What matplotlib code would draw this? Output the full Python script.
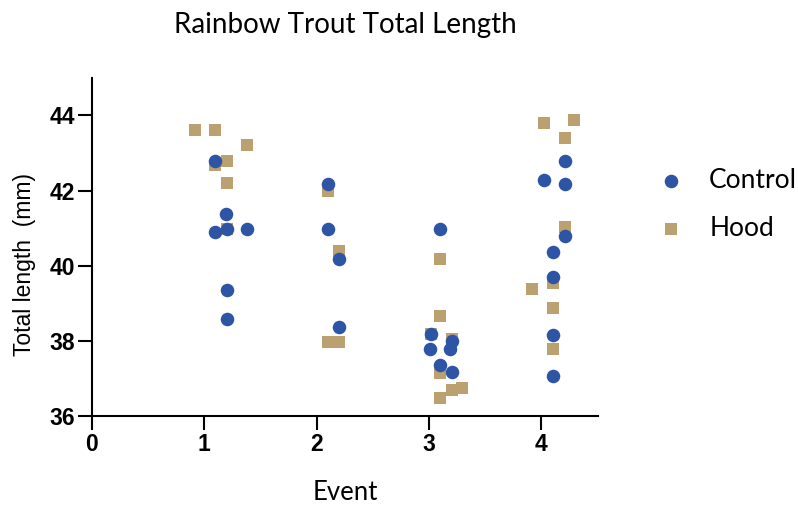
import matplotlib.pyplot as plt
import numpy as np

# values (jittered event positions)
ctrl_x = [1.10, 1.19, 1.10, 1.20, 1.38, 1.20, 1.20,
          2.10, 2.10, 2.20, 2.20,
          3.10, 3.02, 3.20, 3.01, 3.19, 3.10, 3.20,
          4.21, 4.02, 4.21, 4.21, 4.10, 4.10, 4.10, 4.10]
ctrl_y = [42.78, 41.38, 40.89, 40.98, 40.98, 39.36, 38.58,
          42.18, 40.98, 40.18, 38.37,
          40.98, 38.18, 38.00, 37.78, 37.78, 37.36, 37.18,
          42.78, 42.28, 42.18, 40.78, 40.37, 39.69, 38.16, 37.07]

hood_x = [0.92, 1.10, 1.38, 1.20, 1.10, 1.20, 1.20,
          2.10, 2.20, 2.10, 2.20,
          3.10, 3.10, 3.02, 3.20, 3.10, 3.20, 3.29, 3.10,
          4.02, 4.29, 4.21, 4.21, 4.10, 3.92, 4.10, 4.10]
hood_y = [43.60, 43.60, 43.20, 42.78, 42.67, 42.19, 40.98,
          41.98, 40.38, 37.98, 37.98,
          40.18, 38.67, 38.18, 38.05, 37.16, 36.69, 36.74, 36.47,
          43.79, 43.87, 43.39, 41.02, 39.55, 39.38, 38.87, 37.78]

x_ticks = [0, 1, 2, 3, 4]
y_ticks = [36, 38, 40, 42, 44]

blue = '#2E54A6'
tan = '#BBA070'

fig = plt.figure(figsize=(7.98, 5.05), dpi=100)
ax = fig.add_axes([0.115, 0.176, 0.634, 0.670])

ax.scatter(hood_x, hood_y, marker='s', s=85, color=tan, linewidths=0, label='Hood', zorder=3)
ax.scatter(ctrl_x, ctrl_y, marker='o', s=95, color=blue, linewidths=0, label='Control', zorder=4)

ax.set_xlim(0, 4.5)
ax.set_ylim(36, 45)
ax.set_xticks(x_ticks)
ax.set_yticks(y_ticks)
ax.set_xticklabels([str(t) for t in x_ticks], fontsize=16.5, fontweight='bold', family='Liberation Sans')
ax.set_yticklabels([str(t) for t in y_ticks], fontsize=16.5, fontweight='bold', family='Liberation Sans')
ax.tick_params(direction='out', length=10, width=1.5, pad=2)

for s in ['top', 'right']:
    ax.spines[s].set_visible(False)
for s in ['left', 'bottom']:
    ax.spines[s].set_linewidth(1.5)

fig.text(345 / 798, 1 - 25 / 505, 'Rainbow Trout Total Length', ha='center', va='center',
         fontsize=20, family='Lato')
fig.text(345 / 798, 1 - 492 / 505, 'Event', ha='center', va='center', fontsize=18.5, family='Lato')
fig.text(25 / 798, 1 - 264 / 505, 'Total length  (mm)', ha='center', va='center', rotation=90,
         fontsize=16.5, family='Liberation Sans')

handles, labels = ax.get_legend_handles_labels()
leg = ax.legend(handles[::-1], labels[::-1], loc='upper left', bbox_to_anchor=(663 / 798, 1 - 168 / 505),
                bbox_transform=fig.transFigure, frameon=False, prop={'family': 'Lato', 'size': 19},
                labelspacing=0.88, handlelength=0.6, handletextpad=1.15, borderaxespad=0, borderpad=0)

fig.savefig('out.png', dpi=100)
